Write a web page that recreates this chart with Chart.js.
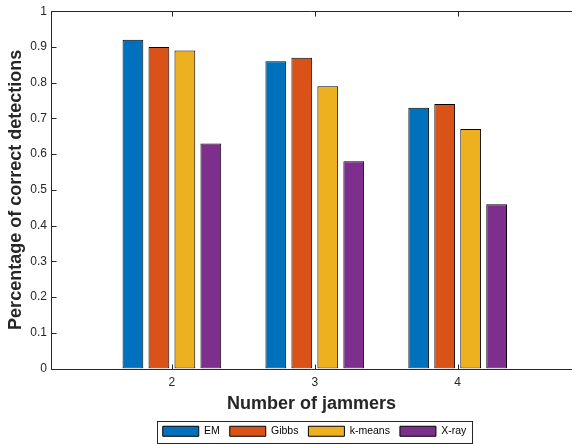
<!DOCTYPE html>
<html>
<head>
<meta charset="utf-8">
<script src="https://cdn.jsdelivr.net/npm/chart.js@4"></script>
<style>
  html, body { margin: 0; padding: 0; background: #ffffff; }
  #wrap { width: 572px; height: 444px; }
</style>
</head>
<body>
<div id="wrap"><canvas id="chart" width="572" height="444"></canvas></div>
<script>
// Number of jammers on the x axis
const categories = [2, 3, 4];
const xTickLabels = ['2', '3', '4'];

// Fraction of correct detections for each method
const emValues     = [0.92, 0.86, 0.73];
const gibbsValues  = [0.90, 0.87, 0.74];
const kmeansValues = [0.89, 0.79, 0.67];
const xrayValues   = [0.63, 0.58, 0.46];

const seriesNames = ['EM', 'Gibbs', 'k-means', 'X-ray'];
const seriesColors = ['#0072BD', '#D95319', '#EDB120', '#7E2F8E'];

const yTickValues = [0, 0.1, 0.2, 0.3, 0.4, 0.5, 0.6, 0.7, 0.8, 0.9, 1];

const FONT = '"Liberation Sans", Arial, Helvetica, sans-serif';
const AXIS_COLOR = '#262626';

function toPoints(values) {
  return categories.map((c, i) => ({ x: c, y: values[i] }));
}

const allSeries = [emValues, gibbsValues, kmeansValues, xrayValues];

const datasets = allSeries.map((vals, i) => ({
  label: seriesNames[i],
  data: toPoints(vals),
  backgroundColor: seriesColors[i],
  borderColor: '#000000',
  borderWidth: 1,
  borderSkipped: false,
  barPercentage: 0.8,
  categoryPercentage: 0.727
}));

// Box axes with inward tick marks, plus a frame around the legend
const axesBox = {
  id: 'axesBox',
  afterLayout(chart) {
    // nudge the legend a little lower and to the right of its default slot
    const lg = chart.legend;
    if (!lg) return;
    lg.top += 2.5; lg.bottom += 2.5;
    lg.left += 3; lg.right += 3;
  },
  afterDatasetsDraw(chart) {
    const { ctx, chartArea: a, scales } = chart;
    const L = Math.round(a.left) + 0.5;
    const B = Math.round(a.bottom) + 0.5;
    const T = Math.round(a.top) + 0.5;
    const R = a.right;
    ctx.save();
    ctx.strokeStyle = AXIS_COLOR;
    ctx.lineWidth = 1;
    ctx.beginPath();
    ctx.moveTo(L, T); ctx.lineTo(R, T);
    ctx.moveTo(L, T); ctx.lineTo(L, B);
    ctx.moveTo(L, B); ctx.lineTo(R, B);
    scales.y.ticks.forEach(t => {
      const py = Math.round(scales.y.getPixelForValue(t.value)) + 0.5;
      ctx.moveTo(L, py); ctx.lineTo(L + 5, py);
    });
    scales.x.ticks.forEach(t => {
      const px = Math.round(scales.x.getPixelForValue(t.value)) + 0.5;
      ctx.moveTo(px, B); ctx.lineTo(px, B - 5);
      ctx.moveTo(px, T); ctx.lineTo(px, T + 5);
    });
    ctx.stroke();
    ctx.restore();
  },
  afterDraw(chart) {
    const lg = chart.legend;
    if (!lg || !lg.legendHitBoxes || !lg.legendHitBoxes.length) return;
    const hb = lg.legendHitBoxes;
    const first = hb[0];
    const last = hb[hb.length - 1];
    const left = Math.round(first.left - 5.5) + 0.5;
    const right = Math.round(last.left + last.width + 6) + 0.5;
    const top = Math.round(first.top - 5.5) + 0.5;
    const bottom = Math.round(first.top + first.height + 6) + 0.5;
    const ctx = chart.ctx;
    ctx.save();
    ctx.strokeStyle = '#262626';
    ctx.lineWidth = 1;
    ctx.strokeRect(left, top, right - left, bottom - top);
    ctx.restore();
  }
};

new Chart(document.getElementById('chart'), {
  type: 'bar',
  data: { datasets },
  plugins: [axesBox],
  options: {
    responsive: false,
    animation: false,
    layout: { padding: { top: 11, right: 0, bottom: 0, left: 0 } },
    plugins: {
      tooltip: { enabled: false },
      legend: {
        position: 'bottom',
        fullSize: false,
        labels: {
          boxWidth: 36,
          boxHeight: 10,
          padding: 10,
          color: '#000000',
          font: { family: FONT, size: 10.5 }
        }
      }
    },
    scales: {
      x: {
        type: 'linear',
        min: 1.154,
        max: 4.8,
        offset: false,
        grid: { display: false, drawTicks: false },
        border: { display: false },
        afterBuildTicks(scale) {
          scale.ticks = categories.map(v => ({ value: v }));
        },
        afterFit(scale) { scale.height = 45; },
        ticks: {
          autoSkip: false,
          maxRotation: 0,
          padding: 7,
          color: AXIS_COLOR,
          font: { family: FONT, size: 12 },
          callback: (v) => xTickLabels[categories.indexOf(v)]
        },
        title: {
          display: true,
          text: 'Number of jammers',
          color: AXIS_COLOR,
          padding: { top: 0, bottom: 0.5 },
          font: { family: FONT, size: 18, weight: 'bold', lineHeight: 1 }
        }
      },
      y: {
        min: 0,
        max: 1,
        grid: { display: false, drawTicks: false },
        border: { display: false },
        afterBuildTicks(scale) {
          scale.ticks = yTickValues.map(v => ({ value: v }));
        },
        afterFit(scale) { scale.width = 51; },
        ticks: {
          padding: 4,
          color: AXIS_COLOR,
          font: { family: FONT, size: 12 },
          callback: (v) => String(+Number(v).toFixed(1))
        },
        title: {
          display: true,
          text: 'Percentage of correct detections',
          color: AXIS_COLOR,
          padding: { top: 7, bottom: 0 },
          font: { family: FONT, size: 18, weight: 'bold', lineHeight: 1 }
        }
      }
    }
  }
});
</script>
</body>
</html>
